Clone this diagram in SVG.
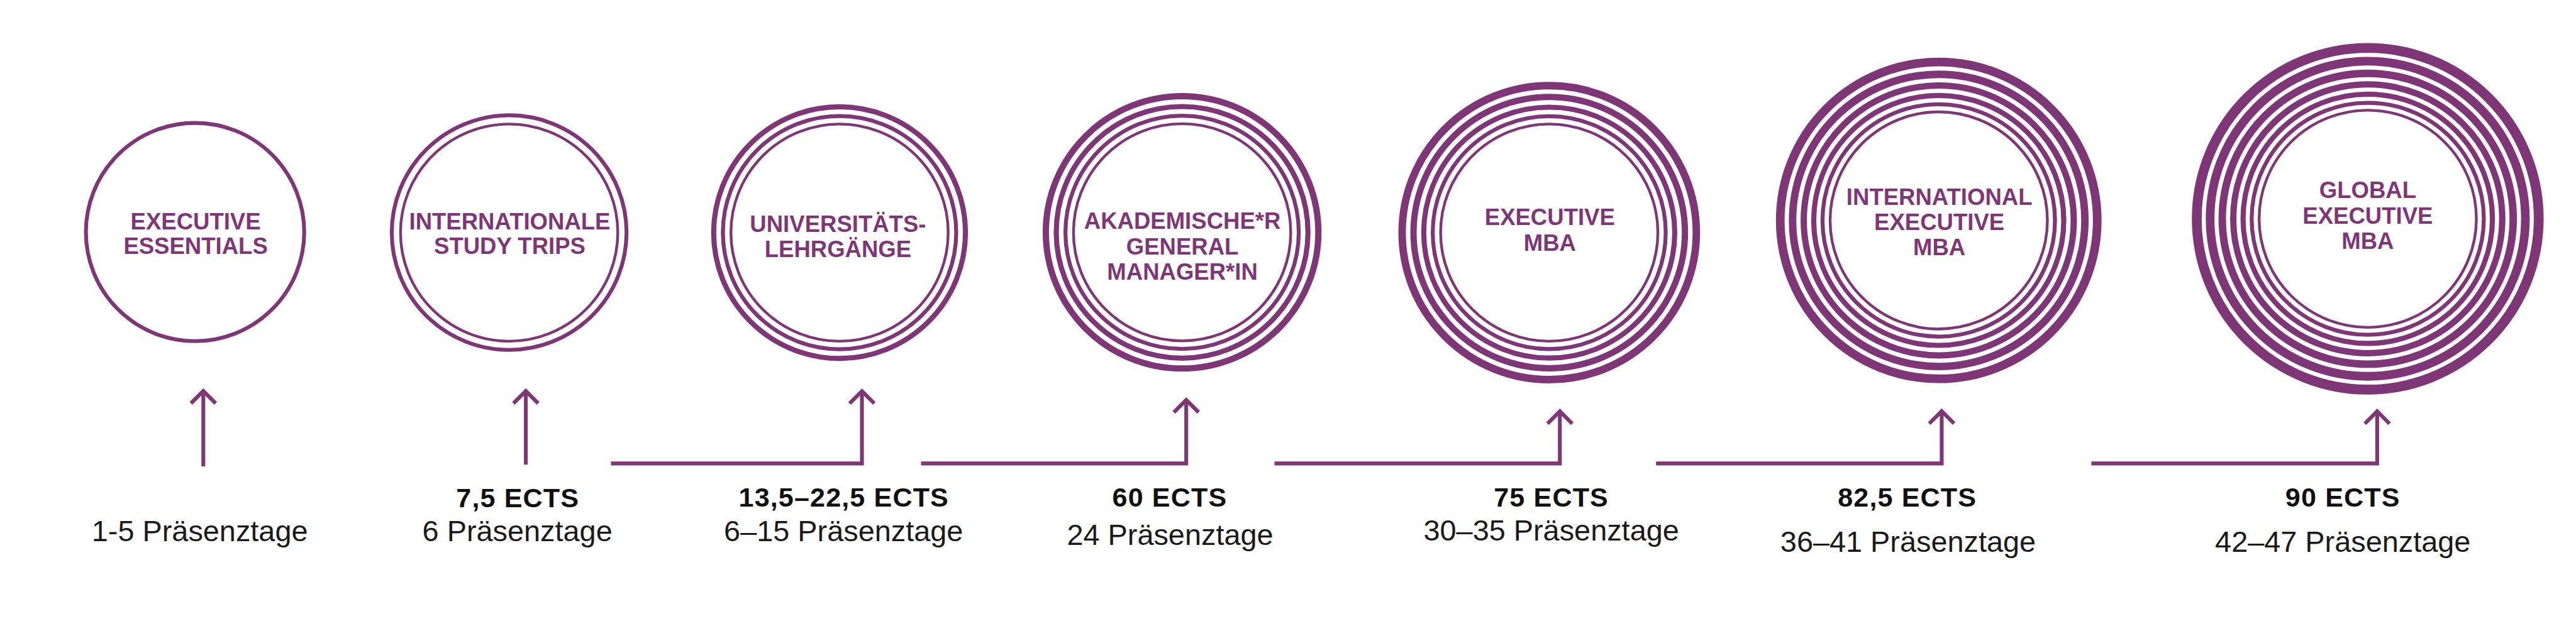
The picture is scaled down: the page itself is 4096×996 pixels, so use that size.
<svg xmlns="http://www.w3.org/2000/svg" xmlns:xlink="http://www.w3.org/1999/xlink" width="4096" height="996" viewBox="0 0 4096 996">
<style>
.ring{fill:none;stroke:#7f3677}
.lbl{font-family:"Liberation Sans",Arial,sans-serif;font-weight:bold;font-size:39px;fill:#7f3677;text-anchor:middle}
.ects{font-family:"Liberation Sans",Arial,sans-serif;font-weight:bold;font-size:46px;letter-spacing:1.2px;fill:#111;text-anchor:middle}
.days{font-family:"Liberation Sans",Arial,sans-serif;font-weight:normal;font-size:50px;fill:#1a1a1a;text-anchor:middle}
.conn{fill:none;stroke:#7f3677;stroke-width:6.5;stroke-linejoin:miter;stroke-linecap:butt}
</style>
<defs>
<path id="chev" class="conn" d="M-21 21 L0 0 L21 21"/>
</defs>
<rect width="4096" height="996" fill="#fff"/>
<g transform="scale(0.937)">
<g id="n1">
<circle class="ring" cx="331" cy="394" r="185.25" stroke-width="6.5"/>
<text class="lbl" x="332" y="389.3">EXECUTIVE</text>
<text class="lbl" x="332" y="431.7">ESSENTIALS</text>
<text class="days" x="339" y="918.4">1-5 Präsenztage</text>
</g>
<g id="n2">
<circle class="ring" cx="864" cy="395" r="184.35" stroke-width="4.7"/>
<circle class="ring" cx="864" cy="395" r="199.2" stroke-width="6.6"/>
<text class="lbl" x="865" y="389.3">INTERNATIONALE</text>
<text class="lbl" x="865" y="431.7">STUDY TRIPS</text>
<text class="ects" x="878.6" y="861">7,5 ECTS</text>
<text class="days" x="878" y="918.4">6 Präsenztage</text>
</g>
<g id="n3">
<circle class="ring" cx="1424.7" cy="395" r="184.35" stroke-width="4.7"/>
<circle class="ring" cx="1424.7" cy="395" r="198" stroke-width="6.7"/>
<circle class="ring" cx="1424.7" cy="395" r="213.65" stroke-width="8.7"/>
<text class="lbl" x="1422" y="394">UNIVERSITÄTS-</text>
<text class="lbl" x="1422" y="436.7">LEHRGÄNGE</text>
<text class="ects" x="1432" y="860">13,5–22,5 ECTS</text>
<text class="days" x="1431.4" y="918.7">6–15 Präsenztage</text>
</g>
<g id="n4">
<circle class="ring" cx="2006" cy="394.5" r="184.35" stroke-width="4.7"/>
<circle class="ring" cx="2006" cy="394.5" r="197.98" stroke-width="6.7"/>
<circle class="ring" cx="2006" cy="394.5" r="213.61" stroke-width="8.7"/>
<circle class="ring" cx="2006" cy="394.5" r="231.25" stroke-width="10.7"/>
<text class="lbl" x="2006.5" y="388.3">AKADEMISCHE*R</text>
<text class="lbl" x="2006.5" y="432.4">GENERAL</text>
<text class="lbl" x="2006.5" y="475.4">MANAGER*IN</text>
<text class="ects" x="1985" y="860">60 ECTS</text>
<text class="days" x="1985.6" y="925.2">24 Präsenztage</text>
</g>
<g id="n5">
<circle class="ring" cx="2629" cy="395" r="184.35" stroke-width="4.7"/>
<circle class="ring" cx="2629" cy="395" r="197.68" stroke-width="6.7"/>
<circle class="ring" cx="2629" cy="395" r="213" stroke-width="8.7"/>
<circle class="ring" cx="2629" cy="395" r="230.33" stroke-width="10.7"/>
<circle class="ring" cx="2629" cy="395" r="249.65" stroke-width="12.7"/>
<text class="lbl" x="2630" y="382.5">EXECUTIVE</text>
<text class="lbl" x="2630" y="425.7">MBA</text>
<text class="ects" x="2632.5" y="860.5">75 ECTS</text>
<text class="days" x="2632.5" y="918">30–35 Präsenztage</text>
</g>
<g id="n6">
<circle class="ring" cx="3290" cy="374.3" r="184.35" stroke-width="4.7"/>
<circle class="ring" cx="3290" cy="374.3" r="197.27" stroke-width="6.7"/>
<circle class="ring" cx="3290" cy="374.3" r="212.19" stroke-width="8.7"/>
<circle class="ring" cx="3290" cy="374.3" r="229.11" stroke-width="10.7"/>
<circle class="ring" cx="3290" cy="374.3" r="248.03" stroke-width="12.7"/>
<circle class="ring" cx="3290" cy="374.3" r="268.95" stroke-width="14.7"/>
<text class="lbl" x="3291" y="347.8">INTERNATIONAL</text>
<text class="lbl" x="3291" y="390.7">EXECUTIVE</text>
<text class="lbl" x="3291" y="432.8">MBA</text>
<text class="ects" x="3236.6" y="860">82,5 ECTS</text>
<text class="days" x="3238" y="936.6">36–41 Präsenztage</text>
</g>
<g id="n7">
<circle class="ring" cx="4018" cy="371.5" r="184.35" stroke-width="4.7"/>
<circle class="ring" cx="4018" cy="371.5" r="196.98" stroke-width="6.7"/>
<circle class="ring" cx="4018" cy="371.5" r="211.61" stroke-width="8.7"/>
<circle class="ring" cx="4018" cy="371.5" r="228.24" stroke-width="10.7"/>
<circle class="ring" cx="4018" cy="371.5" r="246.87" stroke-width="12.7"/>
<circle class="ring" cx="4018" cy="371.5" r="267.5" stroke-width="14.7"/>
<circle class="ring" cx="4018" cy="371.5" r="290.13" stroke-width="16.7"/>
<text class="lbl" x="4018" y="335.7">GLOBAL</text>
<text class="lbl" x="4018" y="379.5">EXECUTIVE</text>
<text class="lbl" x="4018" y="422.5">MBA</text>
<text class="ects" x="3975.7" y="860">90 ECTS</text>
<text class="days" x="3975.7" y="936.6">42–47 Präsenztage</text>
</g>
<g id="connectors">
<path class="conn" d="M345 792 V664"/>
<use xlink:href="#chev" href="#chev" x="345" y="663.9"/>
<path class="conn" d="M892.3 789 V664"/>
<use xlink:href="#chev" href="#chev" x="892.3" y="663.9"/>
<path class="conn" d="M1036.8 787 H1462.7 V664"/>
<use xlink:href="#chev" href="#chev" x="1462.7" y="664.1"/>
<path class="conn" d="M1563 787 H2013 V679"/>
<use xlink:href="#chev" href="#chev" x="2013" y="679.1"/>
<path class="conn" d="M2162.8 787 H2647 V698"/>
<use xlink:href="#chev" href="#chev" x="2647" y="698.4"/>
<path class="conn" d="M2810.3 787 H3295 V698"/>
<use xlink:href="#chev" href="#chev" x="3295" y="698.1"/>
<path class="conn" d="M3549 787 H4034 V698"/>
<use xlink:href="#chev" href="#chev" x="4034" y="698.4"/>
</g>
</g>
</svg>
